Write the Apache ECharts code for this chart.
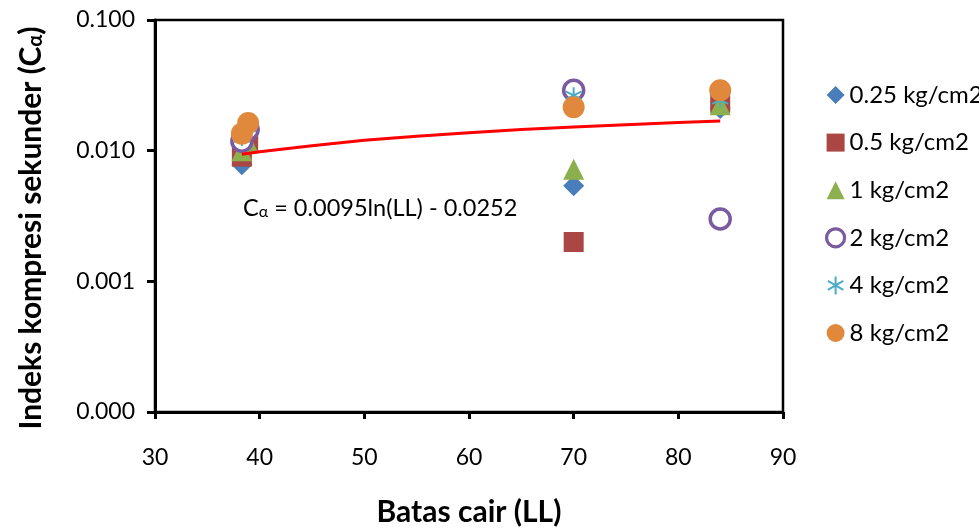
<!DOCTYPE html>
<html><head><meta charset="utf-8">
<script src="https://cdn.jsdelivr.net/npm/echarts@6/dist/echarts.min.js"></script>
<style>html,body{margin:0;padding:0;background:#fff}#c{width:979px;height:532px}</style>
</head><body><div id="c"></div>
<script>
// Data
var seriesNames = ['0.25 kg/cm2','0.5 kg/cm2','1 kg/cm2','2 kg/cm2','4 kg/cm2','8 kg/cm2'];
var LL = [38.3, 38.9, 70.0, 84.0];
var s025 = [0.0078, 0.0125, 0.0054, 0.0210];
var s05  = [0.0090, 0.0115, 0.0020, 0.0232];
var s1   = [0.0100, 0.0115, 0.0072, 0.0225];
var s2   = [0.0118, 0.0145, 0.0290, 0.0030];
var s4   = [0.0125, 0.0150, 0.0265, 0.0245];
var s8   = [0.0135, 0.0163, 0.0215, 0.0290];
var trendX = [38.3, 40, 45, 50, 55, 60, 65, 70, 75, 80, 84];
var trendY = [0.0094, 0.0098, 0.0109, 0.0120, 0.0129, 0.0137, 0.0145, 0.0152, 0.0158, 0.0164, 0.0169];
var yTickLabels = {0.0001:'0.000', 0.001:'0.001', 0.01:'0.010', 0.1:'0.100'};
var xTitle = 'Batas cair (LL)';
var yTitle = 'Indeks kompresi sekunder (C{sub|α})';
var trendLabel = 'C{sub|α} = 0.0095ln(LL) - 0.0252';

var FONT = 'Lato, "Liberation Sans", sans-serif';
var colors = ['#4A7EBB','#AA4643','#8DB04F','#7A5BA0','#4BACC6','#E0883C'];
var symbols = ['diamond','rect','triangle','circle','path://M5,0 L5,10 M0.7,2.5 L9.3,7.5 M0.7,7.5 L9.3,2.5','circle'];
var sizes = [21, 20, 21, 20, 16, 22];
var vals = [s025, s05, s1, s2, s4, s8];

function pairs(xs, ys){ return xs.map(function(x,i){return [x, ys[i]];}); }

var series = vals.map(function(v, i){
  var it = {color: colors[i], opacity: 1};
  if (i === 3) it = {color: '#FFFFFF', borderColor: colors[i], borderWidth: 3.5, opacity: 1};
  if (i === 4) it = {color: colors[i], borderColor: colors[i], borderWidth: 2, opacity: 1};
  return {
    name: seriesNames[i], type: 'scatter', data: pairs(LL, v),
    symbol: symbols[i], symbolSize: sizes[i], itemStyle: it, z: 2 + i
  };
});
series.push({
  name: 'trend', type: 'line', data: pairs(trendX, trendY), showSymbol: false, symbol: 'none',
  lineStyle: {color: '#FF0000', width: 3}, z: 20, silent: true
});

var chart = echarts.init(document.getElementById('c'));
chart.setOption({
  animation: false,
  grid: {left: 155, right: 196, top: 20, bottom: 118, show: true, borderColor: '#000', borderWidth: 2.5},
  legend: {
    orient: 'vertical', left: 825, top: 83, padding: 0, itemWidth: 18, itemHeight: 18, itemGap: 23.6,
    data: seriesNames.map(function(n, i){
      var o = {name: n, icon: symbols[i]};
      if (i === 3) o.itemStyle = {color: '#FFFFFF', borderColor: colors[3], borderWidth: 3.2};
      return o;
    }),
    textStyle: {fontFamily: FONT, fontSize: 24, lineHeight: 24, color: '#000', padding: [0,0,0,0]}
  },
  xAxis: {
    type: 'value', min: 30, max: 90, interval: 10,
    axisLine: {show: true, lineStyle: {color: '#000', width: 3}},
    axisTick: {show: true, length: 7, lineStyle: {color: '#000', width: 3}},
    axisLabel: {fontFamily: FONT, fontSize: 23, color: '#000', margin: 34},
    splitLine: {show: false},
    name: xTitle, nameLocation: 'middle', nameGap: 85,
    nameTextStyle: {fontFamily: FONT, fontSize: 30, fontWeight: 'bold', color: '#000'}
  },
  yAxis: {
    type: 'log', logBase: 10, min: 0.0001, max: 0.1,
    axisLine: {show: true, lineStyle: {color: '#000', width: 3}},
    axisTick: {show: true, length: 8, lineStyle: {color: '#000', width: 3}},
    axisLabel: {fontFamily: FONT, fontSize: 23, color: '#000', margin: 20,
      formatter: function(v){ var k = Object.keys(yTickLabels).find(function(t){return Math.abs(Math.log10(+t) - Math.log10(v)) < 1e-6;}); return k ? yTickLabels[k] : v.toFixed(3); }},
    splitLine: {show: false}, minorTick: {show: false}
  },
  graphic: [{
    type: 'text', x: 31, y: 228, rotation: Math.PI / 2,
    style: {text: yTitle, fontFamily: FONT, fontSize: 30, fontWeight: 'bold', fill: '#000',
      align: 'center', verticalAlign: 'middle',
      rich: {sub: {fontFamily: FONT, fontSize: 20, fontWeight: 'bold', fill: '#000', padding: [10,0,0,0]}}}
  }, {
    type: 'text', left: 243, top: 196,
    style: {text: trendLabel, fontFamily: FONT, fontSize: 23.5, fill: '#000',
      rich: {sub: {fontFamily: FONT, fontSize: 16, fill: '#000', padding: [8,0,0,0]}}}
  }],
  series: series
});
</script></body></html>
